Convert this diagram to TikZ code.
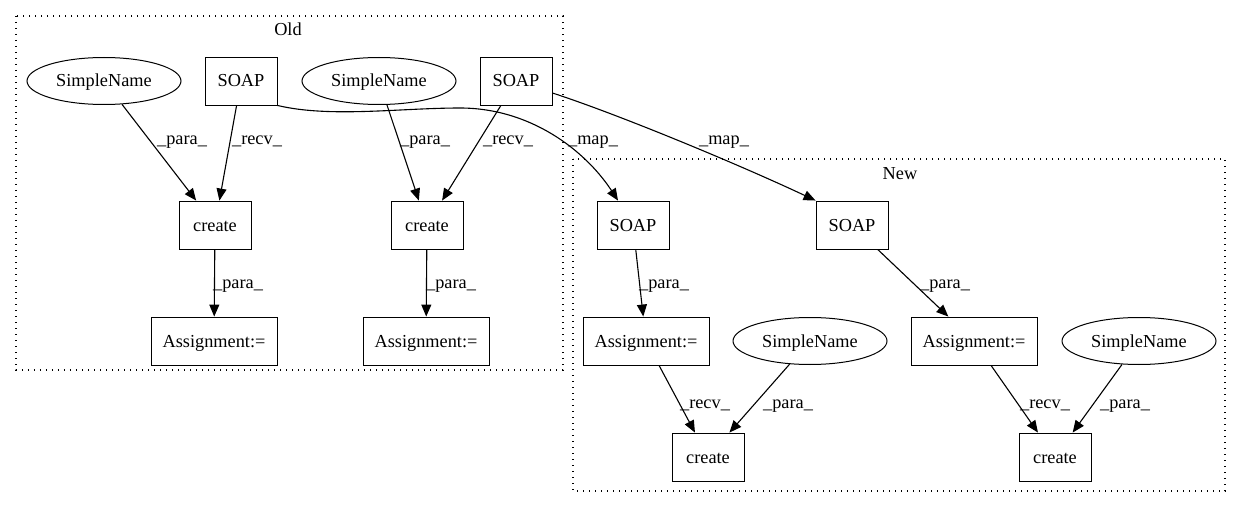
\documentclass[tikz,border=0pt]{standalone}
\usepackage{fontspec}
\setmainfont{Liberation Serif}
\usetikzlibrary{arrows.meta,shapes.geometric}

\begin{document}
\begin{tikzpicture}[
    x=1pt, y=-1pt,
    every node/.style={font=\fontsize{18.3}{22}\selectfont},
    box/.style={draw, line width=0.9pt, minimum width=72pt, minimum height=48pt,
                text height=12pt, text depth=0pt, inner sep=0pt},
    wide/.style={box, minimum width=126pt},
    sname/.style={draw, ellipse, line width=1pt, minimum width=154pt,
                  minimum height=47pt, text height=12pt, text depth=0pt, inner sep=0pt},
    lbl/.style={anchor=base, inner sep=0pt},
    cluster/.style={line width=1.2pt, dash pattern=on 1.4pt off 4.6pt},
    link/.style={line width=1.1pt, -{Triangle[length=12pt,width=10pt]}}
]
\useasboundingbox (0,0) rectangle (1243,508);
% clusters
\draw[cluster] (16,16) rectangle (563,370);
\draw[cluster] (573,159) rectangle (1225,491);
\node[lbl] (old) at (288,36) {Old};
\node[lbl] (new) at (900,179) {New};
% old graph
\node[sname] (sn1) at (104,81) {SimpleName};
\node[box] (soap1) at (241,81) {SOAP};
\node[sname] (sn2) at (379,81) {SimpleName};
\node[box] (soap2) at (516,81) {SOAP};
\node[box] (cr1) at (215,225) {create};
\node[box] (cr2) at (427,225) {create};
\node[wide] (as1) at (214,341) {Assignment:=};
\node[wide] (as2) at (426,341) {Assignment:=};
% new graph
\node[box] (soap3) at (633,225) {SOAP};
\node[box] (soap4) at (852,225) {SOAP};
\node[wide] (as3) at (646,341) {Assignment:=};
\node[sname] (sn3) at (810,341) {SimpleName};
\node[wide] (as4) at (974,341) {Assignment:=};
\node[sname] (sn4) at (1139,341) {SimpleName};
\node[box] (cr3) at (708,457) {create};
\node[box] (cr4) at (1055,457) {create};
% edges
\draw[link] (sn1) -- (cr1);
\draw[link] (soap1) -- (cr1);
\draw[link] (sn2) -- (cr2);
\draw[link] (soap2) -- (cr2);
\draw[link] (cr1) -- (as1);
\draw[link] (cr2) -- (as2);
\draw[link] (soap1.south east) .. controls (330,118) and (400,108) .. (460,108)
    .. controls (530,108) and (585,150) .. ([xshift=-15pt]soap3.north);
\draw[link] ([yshift=-12pt]soap2.east) .. controls (620,115) and (740,165) .. (soap4.north west);
\draw[link] (soap3) -- (as3);
\draw[link] (soap4) -- (as4);
\draw[link] (as3) -- (cr3);
\draw[link] (sn3) -- (cr3);
\draw[link] (as4) -- (cr4);
\draw[link] (sn4) -- (cr4);
% edge labels
\node[lbl] (l1) at (182,145) {\_para\_};
\node[lbl] (l2) at (257,145) {\_recv\_};
\node[lbl] (l3) at (425,145) {\_para\_};
\node[lbl] (l4) at (508,145) {\_recv\_};
\node[lbl] (l5) at (593,145) {\_map\_};
\node[lbl] (l6) at (724,145) {\_map\_};
\node[lbl] (l7) at (238,288) {\_para\_};
\node[lbl] (l8) at (451,288) {\_para\_};
\node[lbl] (l9) at (664,288) {\_para\_};
\node[lbl] (l10) at (945,288) {\_para\_};
\node[lbl] (l11) at (705,408) {\_recv\_};
\node[lbl] (l12) at (788,408) {\_para\_};
\node[lbl] (l13) at (1045,408) {\_recv\_};
\node[lbl] (l14) at (1125,408) {\_para\_};
\end{tikzpicture}
\end{document}
